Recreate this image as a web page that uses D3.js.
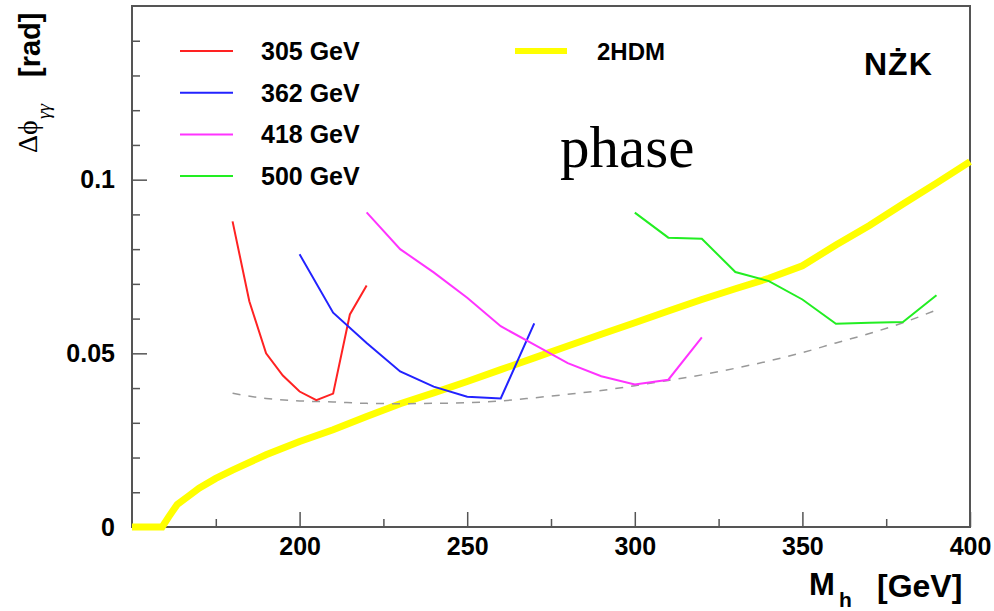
<!DOCTYPE html>
<html>
<head>
<meta charset="utf-8">
<script src="https://cdn.jsdelivr.net/npm/d3@7"></script>
<style>
    body { margin: 0; background: #fff; }
    #chart-area { width: 994px; height: 611px; }
    text { font-family: "Liberation Sans", Arial, sans-serif; }
    text.serif { font-family: "Liberation Serif", "Times New Roman", serif; }
    .tick-label { font-size: 25px; font-weight: bold; }
</style>
</head>
<body>
<div id="chart-area"></div>
<script>

/* * * * * * * * * * * * * *
*     Phase vs Higgs mass   *
* * * * * * * * * * * * * */

// x domain / tick values (GeV), y domain / tick values (rad)
const xDomain = [150, 400]
const yDomain = [0, 0.15]
const xMajorTicks = [200, 250, 300, 350, 400]
const xMinorTicks = [175, 225, 275, 325, 375]
const yMajorTicks = [0, 0.05, 0.1]
const yMinorTicks = [0.01, 0.02, 0.03, 0.04, 0.06, 0.07, 0.08, 0.09, 0.11, 0.12, 0.13, 0.14]

// collider energies
const energyLabels = ["305 GeV", "362 GeV", "418 GeV", "500 GeV"]
const energyColors = ["#ff2222", "#2222ff", "#ff33ff", "#22ee22"]

// 305 GeV
const mass305 = [180, 185, 190, 195, 200, 205, 210, 215, 220]
const phase305 = [0.088, 0.065, 0.050, 0.0436, 0.039, 0.0365, 0.0384, 0.0612, 0.0695]

// 362 GeV
const mass362 = [200, 210, 220, 230, 240, 250, 260, 270]
const phase362 = [0.0785, 0.0617, 0.053, 0.0448, 0.0404, 0.0375, 0.037, 0.0586]

// 418 GeV
const mass418 = [220, 230, 240, 250, 260, 270, 280, 290, 300, 310, 320]
const phase418 = [0.0906, 0.080, 0.0733, 0.066, 0.0578, 0.0525, 0.0472, 0.0434, 0.041, 0.0424, 0.0546]

// 500 GeV
const mass500 = [300, 310, 320, 330, 340, 350, 360, 370, 380, 390]
const phase500 = [0.0905, 0.0833, 0.083, 0.0734, 0.0708, 0.0655, 0.0585, 0.0588, 0.059, 0.0667]

// dashed envelope (minimum)
const massEnvelope = [180, 190, 200, 210, 220, 230, 240, 250, 260, 270, 280, 290, 300, 310, 320, 330, 340, 350, 360, 370, 380, 390]
const phaseEnvelope = [0.0385, 0.037, 0.0363, 0.036, 0.0356, 0.0355, 0.0356, 0.0358, 0.0363, 0.0372, 0.0382, 0.0393, 0.0407, 0.0422, 0.0438, 0.0457, 0.0478, 0.0502, 0.053, 0.0557, 0.0588, 0.0625]

// 2HDM expectation
const mass2HDM = [150, 159, 161, 163.5, 167, 170, 175, 180, 190, 200, 210, 220, 230, 240, 250, 260, 270, 280, 290, 300, 310, 320, 330, 340, 350, 360, 370, 380, 390, 400]
const phase2HDM = [0, 0, 0.003, 0.0065, 0.009, 0.0112, 0.014, 0.0164, 0.0208, 0.0246, 0.028, 0.0318, 0.0355, 0.0386, 0.0419, 0.0453, 0.0487, 0.0521, 0.0555, 0.0588, 0.0622, 0.0655, 0.0686, 0.0716, 0.0752, 0.0812, 0.0868, 0.093, 0.099, 0.1052]

const energySeries = [
    [mass305, phase305],
    [mass362, phase362],
    [mass418, phase418],
    [mass500, phase500]
]

function zipPoints(xs, ys) {
    return xs.map(function(x, i) { return {x: x, y: ys[i]} })
}

let margin = {top: 6, right: 24, bottom: 84, left: 132}
let width = 994 - margin.left - margin.right
let height = 611 - margin.top - margin.bottom

let svg = d3.select("#chart-area").append("svg")
    .attr("width", 994)
    .attr("height", 611)

let g = svg.append("g")
    .attr("transform", "translate(" + margin.left + "," + margin.top + ")")

let x = d3.scaleLinear().domain(xDomain).range([0, width])
let y = d3.scaleLinear().domain(yDomain).range([height, 0])

// frame
g.append("rect")
    .attr("x", 0).attr("y", 0)
    .attr("width", width).attr("height", height)
    .attr("fill", "none")
    .attr("stroke", "#555")
    .attr("stroke-width", 2)

// axes: ticks pointing inward
g.append("g")
    .attr("transform", "translate(0," + height + ")")
    .call(d3.axisBottom(x).tickValues(xMinorTicks).tickSize(-8).tickFormat(""))
    .call(function(a) { a.select(".domain").remove() })
    .selectAll("line").attr("stroke", "#555").attr("stroke-width", 1.5)

g.append("g")
    .attr("transform", "translate(0," + height + ")")
    .call(d3.axisBottom(x).tickValues(xMajorTicks).tickSize(-15).tickPadding(10).tickFormat(d3.format("d")))
    .call(function(a) {
        a.select(".domain").remove()
        a.selectAll("line").attr("stroke", "#555").attr("stroke-width", 1.5)
        a.selectAll("text").attr("class", "tick-label").attr("fill", "#000")
    })

g.append("g")
    .call(d3.axisLeft(y).tickValues(yMinorTicks).tickSize(-8).tickFormat(""))
    .call(function(a) { a.select(".domain").remove() })
    .selectAll("line").attr("stroke", "#555").attr("stroke-width", 1.5)

g.append("g")
    .call(d3.axisLeft(y).tickValues(yMajorTicks).tickSize(-15).tickPadding(17)
        .tickFormat(function(d) { return d === 0 ? "0" : String(d) }))
    .call(function(a) {
        a.select(".domain").remove()
        a.selectAll("line").attr("stroke", "#555").attr("stroke-width", 1.5)
        a.selectAll("text").attr("class", "tick-label").attr("fill", "#000")
    })

let line = d3.line()
    .x(function(d) { return x(d.x) })
    .y(function(d) { return y(d.y) })

// 2HDM band
g.append("path")
    .datum(zipPoints(mass2HDM, phase2HDM))
    .attr("d", line)
    .attr("fill", "none")
    .attr("stroke", "#ffff00")
    .attr("stroke-width", 7)

// envelope
g.append("path")
    .datum(zipPoints(massEnvelope, phaseEnvelope))
    .attr("d", line.curve(d3.curveMonotoneX))
    .attr("fill", "none")
    .attr("stroke", "#999")
    .attr("stroke-width", 1.5)
    .attr("stroke-dasharray", "8,8")
line.curve(d3.curveLinear)

// energy curves
energySeries.forEach(function(s, i) {
    g.append("path")
        .datum(zipPoints(s[0], s[1]))
        .attr("d", line)
        .attr("fill", "none")
        .attr("stroke", energyColors[i])
        .attr("stroke-width", 2)
})

// legend
let legend = svg.append("g")
energyLabels.forEach(function(lab, i) {
    let ly = 51 + i * 41.7
    legend.append("line")
        .attr("x1", 180).attr("x2", 233)
        .attr("y1", ly).attr("y2", ly)
        .attr("stroke", energyColors[i])
        .attr("stroke-width", 2)
    legend.append("text")
        .attr("x", 261).attr("y", ly + 9)
        .attr("class", "tick-label")
        .text(lab)
})
legend.append("line")
    .attr("x1", 515).attr("x2", 567)
    .attr("y1", 51).attr("y2", 51)
    .attr("stroke", "#ffff00")
    .attr("stroke-width", 6)
legend.append("text")
    .attr("x", 597).attr("y", 60)
    .attr("font-size", 24).attr("font-weight", "bold")
    .text("2HDM")

// annotations
svg.append("text")
    .attr("x", 864).attr("y", 75)
    .attr("font-size", 32).attr("font-weight", "bold")
    .attr("letter-spacing", 1)
    .text("NŻK")

svg.append("text")
    .attr("class", "serif")
    .attr("x", 560).attr("y", 167)
    .attr("font-size", 59)
    .text("phase")

// x title
let xt = svg.append("g")
xt.append("text").attr("x", 809).attr("y", 595)
    .attr("font-size", 31).attr("font-weight", "bold").text("M")
xt.append("text").attr("x", 839).attr("y", 607)
    .attr("font-size", 21).attr("font-weight", "bold").text("h")
xt.append("text").attr("x", 877).attr("y", 597)
    .attr("font-size", 32).attr("font-weight", "bold").text("[GeV]")

// y title
let yt = svg.append("g")
yt.append("text")
    .attr("class", "serif")
    .attr("transform", "translate(37,153) rotate(-90)")
    .attr("font-size", 28)
    .text("Δϕ")
yt.append("text")
    .attr("class", "serif")
    .attr("transform", "translate(50,119) rotate(-90)")
    .attr("font-style", "italic")
    .attr("font-size", 19)
    .text("γγ")
yt.append("text")
    .attr("transform", "translate(40,77) rotate(-90)")
    .attr("font-size", 29).attr("font-weight", "bold")
    .text("[rad]")

</script>
</body>
</html>
